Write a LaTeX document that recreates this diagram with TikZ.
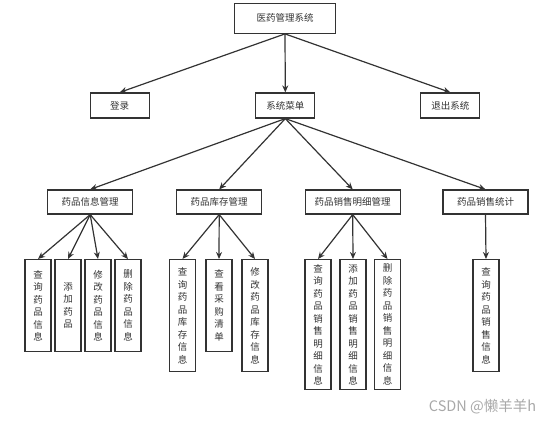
\documentclass[tikz,border=0pt]{standalone}
\usepackage{fontspec}
\newfontfamily\cjk{Noto Sans CJK SC}
\usetikzlibrary{arrows.meta}
\definecolor{ln}{HTML}{333333}
\definecolor{tx}{HTML}{333333}
\definecolor{wm}{HTML}{A8A8A8}
\tikzset{
  box/.style={draw=ln, line width=1.2pt, fill=white, inner sep=0pt, text=tx,
    font=\cjk\fontsize{9.5}{12}\selectfont},
  leaf/.style={box, anchor=north, minimum width=26pt, align=center,
    font=\cjk\fontsize{9.5}{12.5}\selectfont},
  arr/.style={draw=ln, line width=1.2pt, -{Stealth[length=7pt,width=6pt]}},
}
\begin{document}
\begin{tikzpicture}[x=1pt,y=-1pt]
\useasboundingbox (0,0) rectangle (556,425);
% level 0
\node[box, minimum width=101pt, minimum height=30pt] (root) at (285,18.3) {医药管理系统};
% level 1
\node[box, minimum width=59pt, minimum height=25pt] (login) at (119.7,105.5) {登录};
\node[box, minimum width=59pt, minimum height=25pt] (menu) at (285.3,105.5) {系统菜单};
\node[box, minimum width=59pt, minimum height=25pt] (exit) at (450.3,105.5) {退出系统};
% level 2
\node[box, minimum width=85pt, minimum height=24pt] (info) at (90.2,202) {药品信息管理};
\node[box, minimum width=85pt, minimum height=24pt] (stock) at (219.2,202) {药品库存管理};
\node[box, minimum width=95pt, minimum height=24pt] (detail) at (352.7,202) {药品销售明细管理};
\node[box, minimum width=85pt, minimum height=24pt] (stat) at (485.5,202) {药品销售统计};
% leaves
\node[leaf, minimum height=92pt] (a1) at (38,259) {查\\询\\药\\品\\信\\息};
\node[leaf, minimum height=92pt] (a2) at (68,259) {添\\加\\药\\品};
\node[leaf, minimum height=92pt] (a3) at (98,259) {修\\改\\药\\品\\信\\息};
\node[leaf, minimum height=92pt] (a4) at (128,259) {删\\除\\药\\品\\信\\息};
\node[leaf, minimum height=112pt] (b1) at (182.5,259) {查\\询\\药\\品\\库\\存\\信\\息};
\node[leaf, minimum height=92pt] (b2) at (219,259) {查\\看\\采\\购\\清\\单};
\node[leaf, minimum height=112pt] (b3) at (255,259) {修\\改\\药\\品\\库\\存\\信\\息};
\node[leaf, minimum height=130pt] (c1) at (318,259) {查\\询\\药\\品\\销\\售\\明\\细\\信\\息};
\node[leaf, minimum height=130pt] (c2) at (353,259) {添\\加\\药\\品\\销\\售\\明\\细\\信\\息};
\node[leaf, minimum height=130pt] (c3) at (387.5,259) {删\\除\\药\\品\\销\\售\\明\\细\\信\\息};
\node[leaf, minimum height=112pt] (d1) at (486,259) {查\\询\\药\\品\\销\\售\\信\\息};
% arrows
\foreach \t in {login,menu,exit} \draw[arr] (root.south) -- (\t.north);
\foreach \t in {info,stock,detail,stat} \draw[arr] (menu.south) -- (\t.north);
\foreach \t in {a1,a2,a3,a4} \draw[arr] (info.south) -- (\t.north);
\foreach \t in {b1,b2,b3} \draw[arr] (stock.south) -- (\t.north);
\foreach \t in {c1,c2,c3} \draw[arr] (detail.south) -- (\t.north);
\draw[arr] (stat.south) -- (d1.north);
% watermark
\node[text=wm, font=\cjk\fontsize{14.5}{16}\selectfont, inner sep=0pt] (wmk) at (482.5,407) {CSDN @懒羊羊h};
\end{tikzpicture}
\end{document}
